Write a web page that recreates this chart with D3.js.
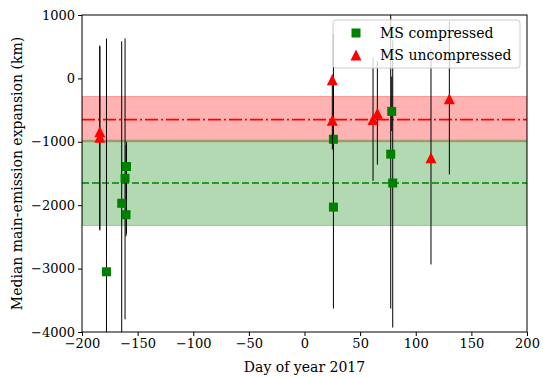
<!DOCTYPE html>
<html>
<head>
<meta charset="utf-8">
<script src="https://cdn.jsdelivr.net/npm/d3@7"></script>
<style>
  body { margin: 0; background: #fff; }
  svg text { font-family: "DejaVu Serif", serif; fill: #000; }
</style>
</head>
<body>
<div id="chart"></div>
<script>
// MS compressed (squares): day, median, error range
const compDay    = [-178, -164.3, -160, -161.3, -160.4, 26, 26, 78.4, 77.5, 79.3];
const compMedian = [-3050, -1970, -1390, -1575, -2150, -960, -2030, -520, -1195, -1650];
const compHigh   = [630, 585, -1000, 630, -1050, -100, 710, 30, 1100, 600];
const compLow    = [-4500, -4500, -2450, -3800, -2490, -1150, -3630, -830, -3630, -3930];

// MS uncompressed (triangles)
const uncompDay    = [-184, -184, 25, 25, 61.6, 65.5, 113.7, 130.2];
const uncompMedian = [-840, -930, -20, -660, -650, -550, -1250, -320];
const uncompHigh   = [520, 500, 60, -90, 330, 270, 460, 900];
const uncompLow    = [-2400, -2380, -90, -1120, -1615, -1360, -2935, -1515];

// mean lines and spread bands
const compMean = -1650, compBand = [-2320, -975];
const uncompMean = -650, uncompBand = [-1000, -285];

const xTicks = [-200, -150, -100, -50, 0, 50, 100, 150, 200];
const yTicks = [1000, 0, -1000, -2000, -3000, -4000];

const width = 543, height = 378;
const margin = { top: 15, right: 16, bottom: 46, left: 82 };
const tickFont = '13px', labelFont = '14px';

const svg = d3.select('#chart').append('svg')
  .attr('width', width)
  .attr('height', height);

const x = d3.scaleLinear().domain([-200, 200]).range([margin.left, width - margin.right]);
const y = d3.scaleLinear().domain([-4000, 1000]).range([height - margin.bottom, margin.top]);

svg.append('clipPath').attr('id', 'plot-clip')
  .append('rect')
  .attr('x', x(-200)).attr('y', y(1000))
  .attr('width', x(200) - x(-200)).attr('height', y(-4000) - y(1000));

const plot = svg.append('g').attr('clip-path', 'url(#plot-clip)');

// bands
plot.append('rect')
  .attr('x', x(-200)).attr('width', x(200) - x(-200))
  .attr('y', y(uncompBand[1])).attr('height', y(uncompBand[0]) - y(uncompBand[1]))
  .attr('fill', 'rgba(255,0,0,0.3)').attr('stroke', 'rgba(255,0,0,0.3)');
plot.append('rect')
  .attr('x', x(-200)).attr('width', x(200) - x(-200))
  .attr('y', y(compBand[1])).attr('height', y(compBand[0]) - y(compBand[1]))
  .attr('fill', 'rgba(0,128,0,0.3)').attr('stroke', 'rgba(0,128,0,0.3)');

// mean lines
plot.append('line')
  .attr('x1', x(-200)).attr('x2', x(200))
  .attr('y1', y(uncompMean)).attr('y2', y(uncompMean))
  .attr('stroke', 'red').attr('stroke-width', 1.6)
  .attr('stroke-dasharray', '13,3,2,3');
plot.append('line')
  .attr('x1', x(-200)).attr('x2', x(200))
  .attr('y1', y(compMean)).attr('y2', y(compMean))
  .attr('stroke', 'green').attr('stroke-width', 1.6)
  .attr('stroke-dasharray', '7,3');

// compressed: error bars then squares
const sq = 9;
plot.selectAll('.err-comp')
  .data(compDay)
  .enter()
  .append('line')
  .attr('class', 'err-comp')
  .attr('x1', (d) => x(d)).attr('x2', (d) => x(d))
  .attr('y1', (d, i) => y(compHigh[i]))
  .attr('y2', (d, i) => y(compLow[i]))
  .attr('stroke', '#000').attr('stroke-width', 1);

plot.selectAll('.pt-comp')
  .data(compDay)
  .enter()
  .append('rect')
  .attr('class', 'pt-comp')
  .attr('x', (d) => x(d) - sq / 2)
  .attr('y', (d, i) => y(compMedian[i]) - sq / 2)
  .attr('width', sq).attr('height', sq)
  .attr('fill', 'green');

// uncompressed: error bars then triangles
const tri = 5.5;
const triPath = `M0,${-tri} L${tri},${tri} L${-tri},${tri} Z`;
plot.selectAll('.err-uncomp')
  .data(uncompDay)
  .enter()
  .append('line')
  .attr('class', 'err-uncomp')
  .attr('x1', (d) => x(d)).attr('x2', (d) => x(d))
  .attr('y1', (d, i) => y(uncompHigh[i]))
  .attr('y2', (d, i) => y(uncompLow[i]))
  .attr('stroke', '#000').attr('stroke-width', 1);

plot.selectAll('.pt-uncomp')
  .data(uncompDay)
  .enter()
  .append('path')
  .attr('class', 'pt-uncomp')
  .attr('d', triPath)
  .attr('transform', (d, i) => `translate(${x(d)},${y(uncompMedian[i])})`)
  .attr('fill', 'red');

// axes
const fmt = (d) => d < 0 ? '\u2212' + Math.abs(d) : String(d);

const xAxis = svg.append('g')
  .attr('transform', `translate(0,${height - margin.bottom})`)
  .call(d3.axisBottom(x).tickValues(xTicks).tickFormat(fmt).tickSizeOuter(0).tickSize(4).tickPadding(3));
const yAxis = svg.append('g')
  .attr('transform', `translate(${margin.left},0)`)
  .call(d3.axisLeft(y).tickValues(yTicks).tickFormat(fmt).tickSizeOuter(0).tickSize(4).tickPadding(3));

[xAxis, yAxis].forEach((a) => {
  a.selectAll('text').style('font-size', tickFont).style('font-family', '"DejaVu Serif", serif');
  a.select('.domain').remove();
});

// frame
svg.append('rect')
  .attr('x', x(-200)).attr('y', y(1000))
  .attr('width', x(200) - x(-200)).attr('height', y(-4000) - y(1000))
  .attr('fill', 'none').attr('stroke', '#000').attr('stroke-width', 1);

// axis labels
svg.append('text')
  .attr('x', (x(-200) + x(200)) / 2)
  .attr('y', 372)
  .attr('text-anchor', 'middle')
  .style('font-size', labelFont)
  .text('Day of year 2017');

svg.append('text')
  .attr('transform', `translate(22,${(y(1000) + y(-4000)) / 2}) rotate(-90)`)
  .attr('text-anchor', 'middle')
  .style('font-size', labelFont)
  .text('Median main-emission expansion (km)');

// legend
const legend = svg.append('g').attr('transform', 'translate(333,20)');
legend.append('rect')
  .attr('width', 187).attr('height', 48).attr('rx', 3)
  .attr('fill', 'rgba(255,255,255,0.8)')
  .attr('stroke', '#ccc').attr('stroke-width', 1);

const legendItems = [
  { label: 'MS compressed', shape: 'square', color: 'green' },
  { label: 'MS uncompressed', shape: 'triangle', color: 'red' }
];
legendItems.forEach((item, i) => {
  const row = legend.append('g').attr('transform', `translate(23,${13 + i * 22})`);
  if (item.shape === 'square') {
    row.append('rect')
      .attr('x', -sq / 2).attr('y', -sq / 2)
      .attr('width', sq).attr('height', sq)
      .attr('fill', item.color);
  } else {
    row.append('path').attr('d', triPath).attr('fill', item.color);
  }
  row.append('text')
    .attr('x', 24)
    .attr('y', 5)
    .style('font-size', labelFont)
    .text(item.label);
});
</script>
</body>
</html>
